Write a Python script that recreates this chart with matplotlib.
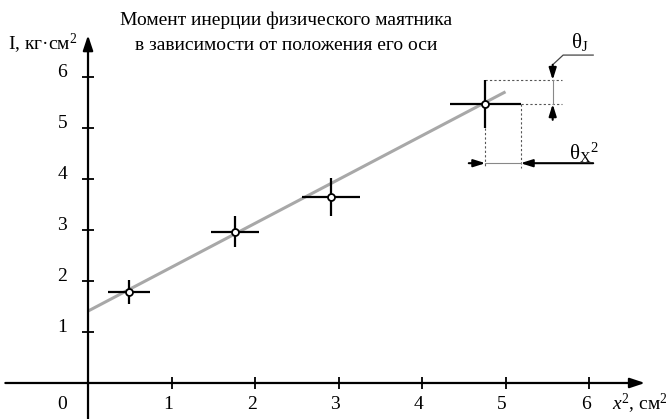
import matplotlib
matplotlib.use('Agg')
import matplotlib.pyplot as plt

# Данные
x2 = [0.49, 1.76, 2.91, 4.76]
I_vals = [1.78, 2.97, 3.64, 5.47]
x2_err = [0.25, 0.29, 0.35, 0.42]
I_err = [0.24, 0.30, 0.37, 0.47]

fit_intercept = 1.41
fit_slope = 0.86
fit_x = [0.0, 5.0]

x_ticks = [1, 2, 3, 4, 5, 6]
y_ticks = [1, 2, 3, 4, 5, 6]

title_lines = ["Момент инерции физического маятника",
               "в зависимости от положения его оси"]

plt.rcParams['font.family'] = ['Liberation Serif', 'DejaVu Serif']
plt.rcParams['mathtext.fontset'] = 'custom'
plt.rcParams['mathtext.rm'] = 'Liberation Serif'
plt.rcParams['mathtext.it'] = 'Liberation Serif:italic'

fig = plt.figure(figsize=(6.66, 4.19), dpi=100)
ax = fig.add_axes([0, 0, 1, 1])
ax.set_xlim(-1.054, 6.922)
ax.set_ylim(-0.706, 7.51)
ax.axis('off')

fs = 14

# оси со стрелками
arrow = dict(arrowstyle='-|>,head_length=0.9,head_width=0.3', color='black',
             lw=1.6, shrinkA=0, shrinkB=0)
ax.annotate('', xy=(6.67, 0), xytext=(-0.99, 0), arrowprops=arrow)
ax.annotate('', xy=(0, 6.82), xytext=(0, -0.71), arrowprops=arrow)

# засечки
ax.plot(x_ticks, [0] * len(x_ticks), ls='none', marker='|', ms=8, mew=1.3, color='black')
ax.plot([0] * len(y_ticks), y_ticks, ls='none', marker='_', ms=9, mew=1.3, color='black')

for t in x_ticks:
    ax.text(t - 0.04, -0.42, str(t), ha='center', va='center', fontsize=fs)
for t in y_ticks:
    ax.text(-0.25, t + 0.08, str(t), ha='right', va='center', fontsize=fs)
ax.text(-0.31, -0.42, '0', ha='center', va='center', fontsize=fs)

ax.text(-0.96, 6.65, 'I, кг·см$^2$', ha='left', va='center', fontsize=fs)
ax.text(6.27, -0.42, '$x^2$, см$^2$', ha='left', va='center', fontsize=fs)

# заголовок
ax.text(2.37, 7.12, title_lines[0], ha='center', va='center', fontsize=fs)
ax.text(2.37, 6.62, title_lines[1], ha='center', va='center', fontsize=fs)

# линия аппроксимации
fit_y = [fit_intercept + fit_slope * v for v in fit_x]
ax.plot(fit_x, fit_y, color='#a8a8a8', lw=2.2, solid_capstyle='butt', zorder=2)

# точки с погрешностями
ax.errorbar(x2, I_vals, xerr=x2_err, yerr=I_err, fmt='none', ecolor='black',
            elinewidth=1.6, capsize=0, zorder=3)
ax.plot(x2, I_vals, ls='none', marker='o', ms=5, mfc='white', mec='black',
        mew=1.3, zorder=4)

# пояснение погрешностей для последней точки
px, py = x2[-1], I_vals[-1]
ex, ey = x2_err[-1], I_err[-1]
dot = dict(color='#555555', lw=0.8, ls=(0, (2, 2)))
guide_x = 5.68
ax.plot([px, guide_x], [py + ey, py + ey], **dot)
ax.plot([px + ex, guide_x], [py, py], **dot)
low_y = 4.22
ax.plot([px, px], [py - ey, low_y], **dot)
ax.plot([px + ex, px + ex], [py, low_y], **dot)

small = dict(arrowstyle='-|>,head_length=0.7,head_width=0.22', color='black',
             lw=1.5, shrinkA=0, shrinkB=0)

# θ по x²
arr_y = 4.31
ax.plot([px, px + ex], [arr_y, arr_y], color='#888888', lw=0.8)
ax.annotate('', xy=(px, arr_y), xytext=(px - 0.2, arr_y), arrowprops=small)
ax.annotate('', xy=(px + ex, arr_y), xytext=(6.05, arr_y), arrowprops=small)
ax.text(5.76, 4.52, r'$\mathrm{θ}_{\mathrm{X}}{}^{2}$', ha='left', va='center', fontsize=fs + 1)

# θ по I
vx = 5.565
ax.plot([vx, vx], [py, py + ey], color='#888888', lw=0.8)
ax.annotate('', xy=(vx, py + ey), xytext=(vx, 6.24), arrowprops=small)
ax.annotate('', xy=(vx, py), xytext=(vx, 5.16), arrowprops=small)
ax.plot([vx, 5.69, 6.05], [6.24, 6.43, 6.43], color='#444444', lw=0.9)
ax.text(5.78, 6.68, r'$\mathrm{θ}_{\mathrm{J}}$', ha='left', va='center', fontsize=fs + 1)

fig.savefig('out.png', dpi=100)
